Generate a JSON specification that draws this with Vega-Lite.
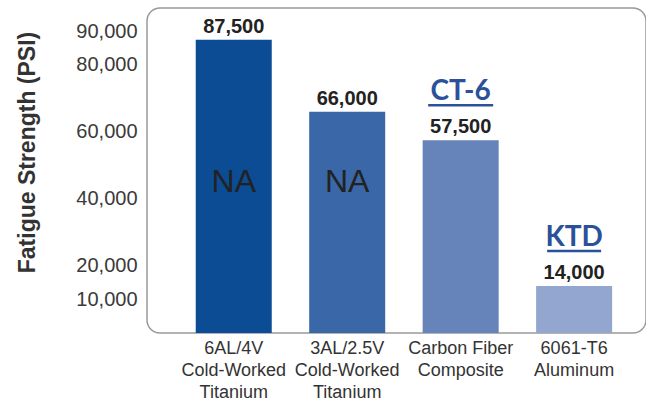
{
  "$schema": "https://vega.github.io/schema/vega-lite/v6.json",
  "width": 499,
  "height": 325,
  "autosize": {"type": "none"},
  "padding": {"left": 147, "top": 8, "right": 0, "bottom": 67},
  "background": "white",
  "config": {
    "font": "Liberation Sans",
    "view": {"stroke": "#9a9a9a", "strokeWidth": 1.5, "cornerRadius": 13}
  },
  "data": {
    "values": [
      {"material": "6AL/4V Cold-Worked Titanium", "value": 87500, "note": "NA", "brand": null},
      {"material": "3AL/2.5V Cold-Worked Titanium", "value": 66000, "note": "NA", "brand": null},
      {"material": "Carbon Fiber Composite", "value": 57500, "note": null, "brand": "CT-6"},
      {"material": "6061-T6 Aluminum", "value": 14000, "note": null, "brand": "KTD"}
    ]
  },
  "encoding": {
    "x": {
      "field": "material",
      "type": "nominal",
      "sort": null,
      "scale": {"paddingInner": 0.33, "paddingOuter": 0.364, "align": 0.59},
      "axis": {
        "title": null,
        "labelAngle": 0,
        "domain": false,
        "ticks": false,
        "labelFontSize": 18,
        "labelLineHeight": 22,
        "labelColor": "#333333",
        "labelPadding": 6,
        "labelLimit": 300,
        "labelExpr": "datum.label == 'Carbon Fiber Composite' ? ['Carbon Fiber', 'Composite'] : split(datum.label, ' ')"
      }
    }
  },
  "layer": [
    {
      "mark": {"type": "bar"},
      "encoding": {
        "y": {
          "field": "value",
          "type": "quantitative",
          "scale": {"domain": [0, 97000], "nice": false, "zero": true},
          "axis": {
            "title": "Fatigue Strength (PSI)",
            "values": [10000, 20000, 40000, 60000, 80000, 90000],
            "labelExpr": "format(datum.value, ',')",
            "grid": false,
            "domain": false,
            "ticks": false,
            "labelPadding": 10,
            "labelFontSize": 20,
            "labelColor": "#3a3a3a",
            "titleFontSize": 23,
            "titleFontWeight": "bold",
            "titleColor": "#333333",
            "titleAngle": -90,
            "titleX": -120,
            "titleY": 144,
            "titleAlign": "center",
            "titleBaseline": "middle"
          }
        },
        "color": {
          "field": "material",
          "type": "nominal",
          "legend": null,
          "scale": {
            "domain": ["6AL/4V Cold-Worked Titanium", "3AL/2.5V Cold-Worked Titanium", "Carbon Fiber Composite", "6061-T6 Aluminum"],
            "range": ["#0b4c94", "#3a67a8", "#6683ba", "#93a6cf"]
          }
        }
      }
    },
    {
      "mark": {"type": "text", "dy": -7, "baseline": "alphabetic", "fontSize": 20, "fontWeight": "bold", "color": "#222222"},
      "encoding": {
        "y": {"field": "value", "type": "quantitative"},
        "text": {"field": "value", "type": "quantitative", "format": ","}
      }
    },
    {
      "transform": [{"filter": "datum.note != null"}],
      "mark": {"type": "text", "baseline": "middle", "fontSize": 32, "color": "#222222"},
      "encoding": {
        "y": {"datum": 45000, "type": "quantitative"},
        "text": {"field": "note", "type": "nominal"}
      }
    },
    {
      "transform": [{"filter": "datum.brand != null"}],
      "mark": {"type": "text", "dy": -40, "baseline": "alphabetic", "font": "Lato", "fontSize": 28, "fontWeight": "bold", "color": "#2b519b"},
      "encoding": {
        "y": {"field": "value", "type": "quantitative"},
        "text": {"field": "brand", "type": "nominal"}
      }
    },
    {
      "transform": [{"filter": "datum.brand != null"}],
      "mark": {"type": "tick", "orient": "horizontal", "thickness": 2.5, "yOffset": -35, "color": "#2b519b", "opacity": 1},
      "encoding": {
        "y": {"field": "value", "type": "quantitative"},
        "size": {"condition": {"test": "datum.brand == 'CT-6'", "value": 65}, "value": 54}
      }
    }
  ]
}
